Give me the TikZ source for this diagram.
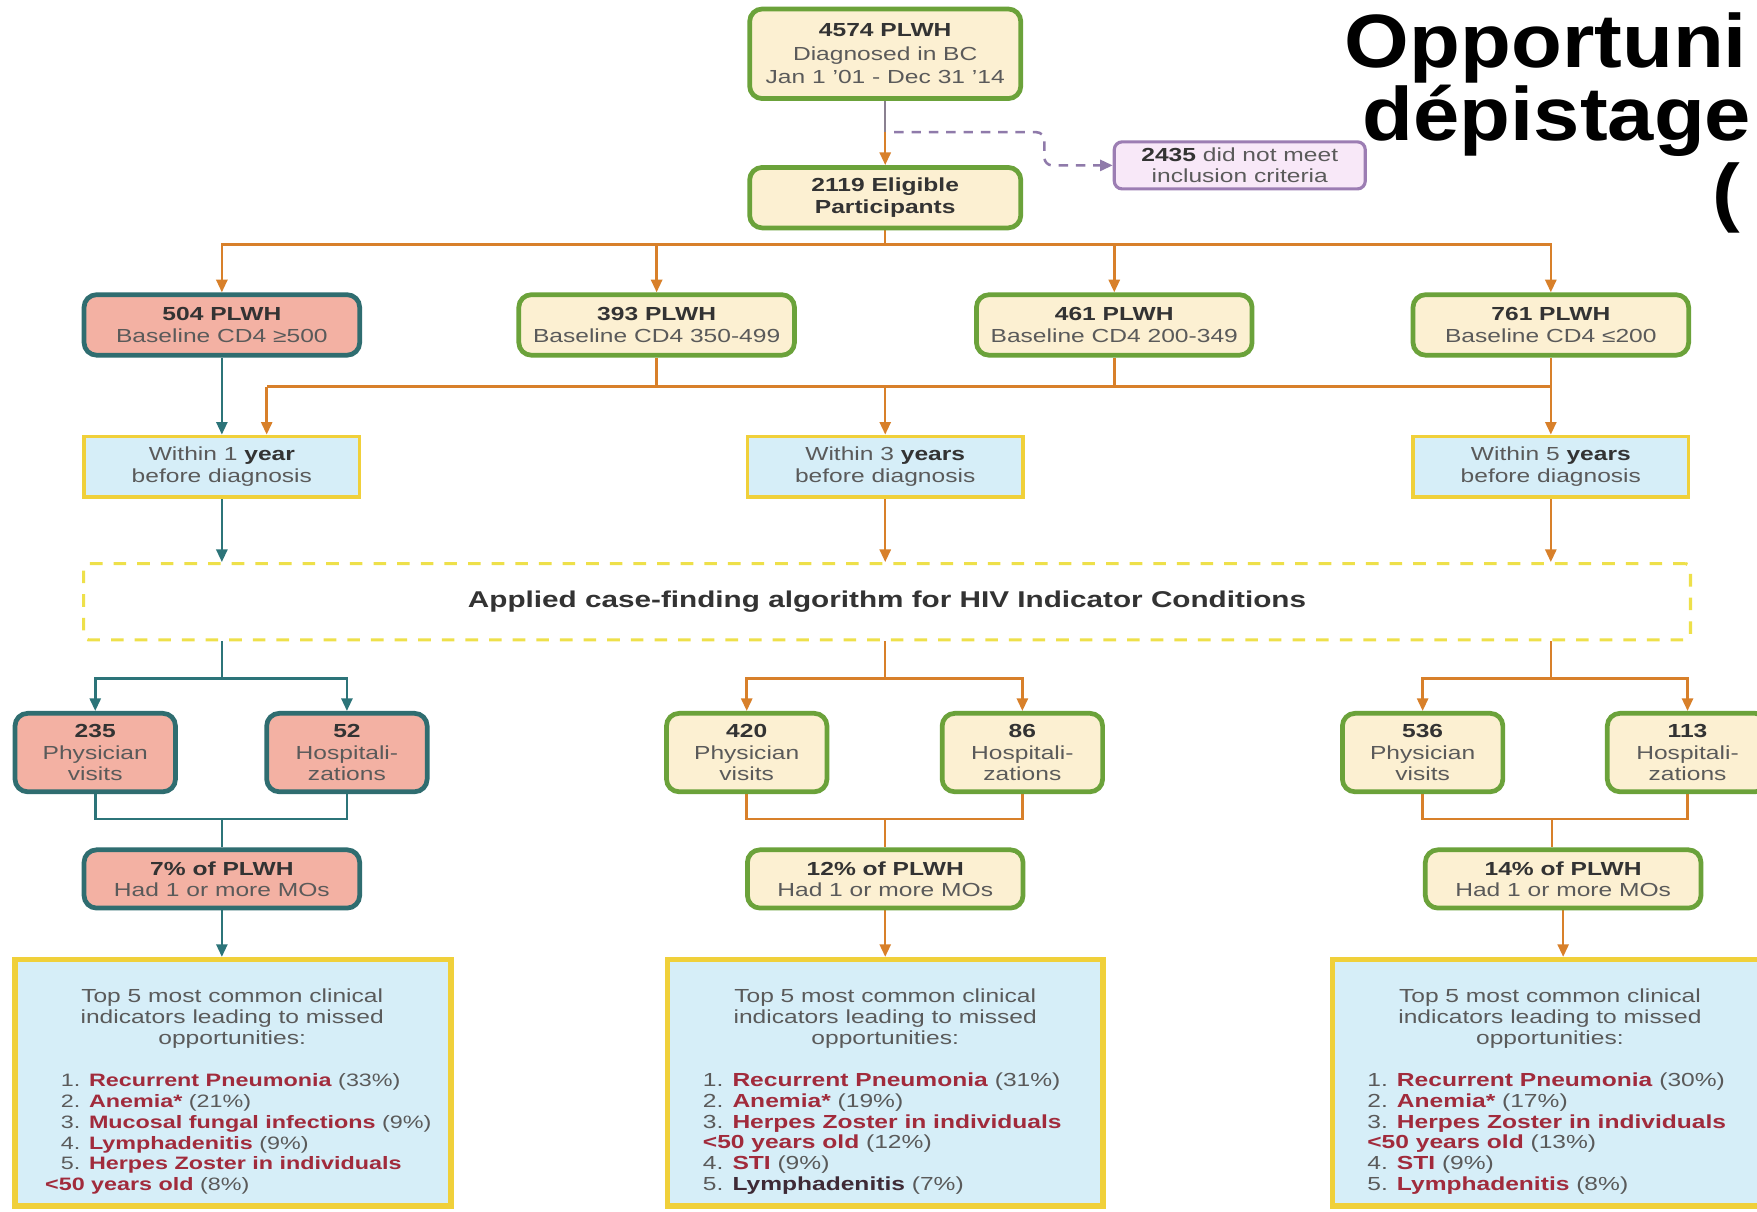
\documentclass[tikz,border=0pt]{standalone}
\usepackage{fontspec}
\setmainfont{Liberation Sans}[FakeStretch=1.3]
\newfontfamily\titlefont{Liberation Sans}[FakeStretch=1.1]
\usetikzlibrary{arrows.meta}
\pgfdeclarelayer{edgelayer}
\pgfdeclarelayer{nodelayer}
\pgfsetlayers{edgelayer,nodelayer,main}
\definecolor{boxgreen}{HTML}{6BA23A}
\definecolor{boxcream}{HTML}{FCF0D2}
\definecolor{boxteal}{HTML}{2F6D70}
\definecolor{boxsalmon}{HTML}{F3B1A3}
\definecolor{boxyellow}{HTML}{F0D03A}
\definecolor{boxblue}{HTML}{D6EEF8}
\definecolor{dashyellow}{HTML}{EEE04A}
\definecolor{boxpurple}{HTML}{9C7DB3}
\definecolor{boxpink}{HTML}{F8E8F8}
\definecolor{lineorange}{HTML}{D8802A}
\definecolor{lineteal}{HTML}{2C7479}
\definecolor{linepurple}{HTML}{8F7AAA}
\definecolor{linegray}{HTML}{8A8090}
\definecolor{textgray}{HTML}{5A5A5A}
\definecolor{textdark}{HTML}{333333}
\definecolor{mored}{HTML}{A12B3C}
\definecolor{modark}{HTML}{3E2A36}
\newcommand{\boxfont}{\fontsize{12}{13.5}\selectfont}
\newcommand{\bnum}[1]{\textcolor{textdark}{\textbf{#1}}}
\newcommand{\redmo}[1]{\textcolor{mored}{\textbf{#1}}}
\tikzstyle{none}=[inner sep=0pt]
\tikzstyle{greenbox}=[rectangle, rounded corners=8pt, draw=boxgreen, line width=3pt, fill=boxcream, align=center, text=textgray, font=\boxfont]
\tikzstyle{redbox}=[greenbox, draw=boxteal, fill=boxsalmon]
\tikzstyle{purplebox}=[greenbox, draw=boxpurple, fill=boxpink, rounded corners=5pt, line width=2pt]
\tikzstyle{bluebox}=[rectangle, draw=boxyellow, line width=2.2pt, fill=boxblue, align=center, text=textgray, font=\boxfont]
\tikzstyle{listbox}=[rectangle, draw=boxyellow, line width=3.5pt, fill=boxblue]
\tikzstyle{dashbox}=[rectangle, rounded corners=3pt, draw=dashyellow, line width=2pt, dash pattern=on 8pt off 7pt, text=textdark, font=\fontsize{14.5}{16}\selectfont\bfseries]
\tikzstyle{topsize}=[minimum width=6.05cm, minimum height=2cm, font=\fontsize{12}{14.8}\selectfont]
\tikzstyle{widesize}=[minimum width=6.15cm, minimum height=1.35cm]
\tikzstyle{smallsize}=[minimum width=3.58cm, minimum height=1.75cm]
\tikzstyle{tallsize}=[minimum width=9.72cm, minimum height=5.5cm]
\tikzstyle{listtext}=[none, text=textgray, font=\boxfont]
\tikzstyle{titletext}=[none, anchor=base west, text=black, font=\titlefont\fontsize{48}{50}\selectfont\bfseries]
\tikzstyle{oline}=[draw=lineorange, line width=1.6pt]
\tikzstyle{oarrow}=[oline, -{Triangle[length=8pt,width=7pt]}]
\tikzstyle{tline}=[draw=lineteal, line width=1.6pt]
\tikzstyle{tarrow}=[tline, -{Triangle[length=8pt,width=7pt]}]
\tikzstyle{gline}=[draw=linegray, line width=1.6pt]
\tikzstyle{parrow}=[draw=linepurple, line width=1.6pt, dash pattern=on 6pt off 5pt, rounded corners=5pt, -{Triangle[length=8pt,width=7pt]}]

\begin{document}
\begin{tikzpicture}
	\useasboundingbox (0,0) rectangle (39.2,-27.025);
	\begin{pgfonlayer}{nodelayer}
		\node [style=greenbox, style=topsize] (0) at (19.75, -1.2) {\bnum{4574 PLWH}\\Diagnosed in BC\\Jan 1 '01 - Dec 31 '14};
		\node [style=greenbox, style=widesize, minimum width=6.05cm] (1) at (19.75, -4.41) {\bnum{2119 Eligible}\\\bnum{Participants}};
		\node [style=purplebox, minimum width=5.6cm, minimum height=1.05cm] (2) at (27.66, -3.69) {\bnum{2435} did not meet\\inclusion criteria};
		\node [style=redbox, style=widesize] (3) at (4.95, -7.25) {\bnum{504 PLWH}\\Baseline CD4 ≥500};
		\node [style=greenbox, style=widesize] (4) at (14.65, -7.25) {\bnum{393 PLWH}\\Baseline CD4 350-499};
		\node [style=greenbox, style=widesize] (5) at (24.86, -7.25) {\bnum{461 PLWH}\\Baseline CD4 200-349};
		\node [style=greenbox, style=widesize] (6) at (34.6, -7.25) {\bnum{761 PLWH}\\Baseline CD4 ≤200};
		\node [style=bluebox, style=widesize] (7) at (4.95, -10.41) {Within 1 \bnum{year}\\before diagnosis};
		\node [style=bluebox, style=widesize] (8) at (19.75, -10.41) {Within 3 \bnum{years}\\before diagnosis};
		\node [style=bluebox, style=widesize] (9) at (34.6, -10.41) {Within 5 \bnum{years}\\before diagnosis};
		\node [style=dashbox, minimum width=35.85cm, minimum height=1.7cm] (10) at (19.79, -13.425) {Applied case-finding algorithm for HIV Indicator Conditions};
		\node [style=redbox, style=smallsize] (11) at (2.125, -16.79) {\bnum{235}\\Physician\\visits};
		\node [style=redbox, style=smallsize] (12) at (7.74, -16.79) {\bnum{52}\\Hospitali-\\zations};
		\node [style=greenbox, style=smallsize] (13) at (16.66, -16.79) {\bnum{420}\\Physician\\visits};
		\node [style=greenbox, style=smallsize] (14) at (22.81, -16.79) {\bnum{86}\\Hospitali-\\zations};
		\node [style=greenbox, style=smallsize] (15) at (31.74, -16.79) {\bnum{536}\\Physician\\visits};
		\node [style=greenbox, style=smallsize] (16) at (37.65, -16.79) {\bnum{113}\\Hospitali-\\zations};
		\node [style=redbox, style=widesize, minimum height=1.3cm] (17) at (4.95, -19.61) {\bnum{7\% of PLWH}\\Had 1 or more MOs};
		\node [style=greenbox, style=widesize, minimum height=1.3cm] (18) at (19.75, -19.61) {\bnum{12\% of PLWH}\\Had 1 or more MOs};
		\node [style=greenbox, style=widesize, minimum height=1.3cm] (19) at (34.875, -19.61) {\bnum{14\% of PLWH}\\Had 1 or more MOs};
		\node [style=listbox, style=tallsize] (20) at (5.2, -24.16) {};
		\node [style=listbox, style=tallsize] (21) at (19.75, -24.16) {};
		\node [style=listbox, style=tallsize, minimum width=9.75cm] (22) at (34.6, -24.16) {};
		\node [style=listtext, anchor=north, align=center] (23) at (5.18, -22.05) {Top 5 most common clinical\\indicators leading to missed\\opportunities:};
		\node [style=listtext, anchor=north, align=center] (24) at (19.75, -22.05) {Top 5 most common clinical\\indicators leading to missed\\opportunities:};
		\node [style=listtext, anchor=north, align=center] (25) at (34.58, -22.05) {Top 5 most common clinical\\indicators leading to missed\\opportunities:};
		\node [style=listtext, anchor=north west, align=left, font=\fontsize{11.4}{13.2}\selectfont] (26) at (1.0, -23.95) {\hspace*{10pt}1. \redmo{Recurrent Pneumonia} (33\%)\\\hspace*{10pt}2. \redmo{Anemia*} (21\%)\\\hspace*{10pt}3. \redmo{Mucosal fungal infections} (9\%)\\\hspace*{10pt}4. \redmo{Lymphadenitis} (9\%)\\\hspace*{10pt}5. \redmo{Herpes Zoster in individuals}\\\redmo{<50 years old} (8\%)};
		\node [style=listtext, anchor=north west, align=left, font=\fontsize{12}{13.2}\selectfont] (27) at (15.675, -23.93) {1. \redmo{Recurrent Pneumonia} (31\%)\\2. \redmo{Anemia*} (19\%)\\3. \redmo{Herpes Zoster in individuals}\\\redmo{<50 years old} (12\%)\\4. \redmo{STI} (9\%)\\5. \textcolor{modark}{\textbf{Lymphadenitis}} (7\%)};
		\node [style=listtext, anchor=north west, align=left, font=\fontsize{12}{13.2}\selectfont] (28) at (30.5, -23.93) {1. \redmo{Recurrent Pneumonia} (30\%)\\2. \redmo{Anemia*} (17\%)\\3. \redmo{Herpes Zoster in individuals}\\\redmo{<50 years old} (13\%)\\4. \redmo{STI} (9\%)\\5. \redmo{Lymphadenitis} (8\%)};
		\node [style=titletext] (29) at (30.0, -1.5) {Opportuni};
		\node [style=titletext] (30) at (30.4, -3.125) {dépistage};
		\node [style=titletext] (31) at (38.2, -4.85) {(};
	\end{pgfonlayer}
	\begin{pgfonlayer}{edgelayer}
		\fill [white] (0,0) rectangle (39.2,-27.025);
		\coordinate (c0) at (19.75, -2.95);
		\coordinate (c4) at (23.3, -2.95);
		\coordinate (c1) at (19.75, -5.45);
		\coordinate (c2) at (34.6, -8.625);
		\coordinate (c3) at (5.95, -8.625);
		\draw [style=gline] (0.south) to (c0);
		\draw [style=oarrow] (c0) to (1.north);
		\draw [style=parrow] ([xshift=0.2cm]c0) -- (c4) |- (2.west);
		\draw [style=oarrow] (1.south) -- (c1) -| (3.north);
		\draw [style=oarrow] (1.south) -- (c1) -| (4.north);
		\draw [style=oarrow] (1.south) -- (c1) -| (5.north);
		\draw [style=oarrow] (1.south) -- (c1) -| (6.north);
		\draw [style=tarrow] (3.south) to (7.north);
		\draw [style=oline] (4.south) |- (c2);
		\draw [style=oline] (4.south |- c2) to (c3);
		\draw [style=oarrow] (c3) to (c3 |- 7.north);
		\draw [style=oarrow] (8.north |- c2) to (8.north);
		\draw [style=oline] (5.south) to (5.south |- c2);
		\draw [style=oarrow] (6.south) to (9.north);
		\draw [style=tarrow] (7.south) to (7.south |- 10.north);
		\draw [style=oarrow] (8.south) to (8.south |- 10.north);
		\draw [style=oarrow] (9.south) to (9.south |- 10.north);
		\draw [style=tarrow] (7.south |- 10.south) -- ++(0,-0.825) -| (11.north);
		\draw [style=tarrow] (7.south |- 10.south) -- ++(0,-0.825) -| (12.north);
		\draw [style=oarrow] (8.south |- 10.south) -- ++(0,-0.825) -| (13.north);
		\draw [style=oarrow] (8.south |- 10.south) -- ++(0,-0.825) -| (14.north);
		\draw [style=oarrow] (9.south |- 10.south) -- ++(0,-0.825) -| (15.north);
		\draw [style=oarrow] (9.south |- 10.south) -- ++(0,-0.825) -| (16.north);
		\draw [style=tline] (11.south) -- ++(0,-0.55) -| (17.north);
		\draw [style=tline] (12.south) -- ++(0,-0.55) -| (17.north);
		\draw [style=oline] (13.south) -- ++(0,-0.55) -| (18.north);
		\draw [style=oline] (14.south) -- ++(0,-0.55) -| (18.north);
		\draw [style=oline] (15.south) -- ++(0,-0.55) -| ([xshift=-0.25cm]19.north);
		\draw [style=oline] (16.south) -- ++(0,-0.55) -| ([xshift=-0.25cm]19.north);
		\draw [style=tarrow] (17.south) to (17.south |- 20.north);
		\draw [style=oarrow] (18.south) to (18.south |- 21.north);
		\draw [style=oarrow] (19.south) to (19.south |- 22.north);
	\end{pgfonlayer}
\end{tikzpicture}
\end{document}
